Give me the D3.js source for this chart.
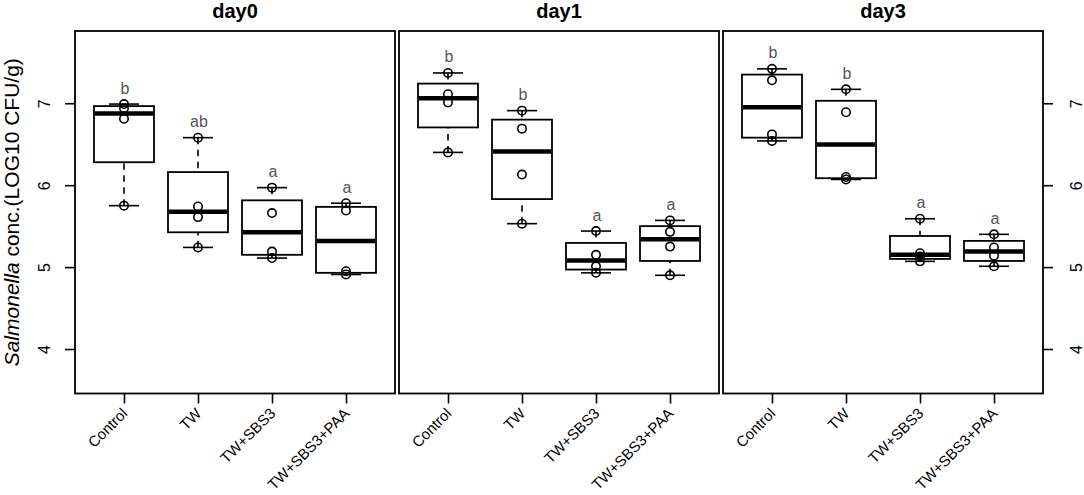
<!DOCTYPE html>
<html>
<head>
<meta charset="utf-8">
<script src="https://cdn.jsdelivr.net/npm/d3@7"></script>
<style>
  body { margin: 0; background: white; }
  text { font-family: "Liberation Sans", Arial, sans-serif; }
</style>
</head>
<body>
<div id="container"></div>
<script>
// values: 4 samples per group
let days = ["day0", "day1", "day3"];
let treatments = ["Control", "TW", "TW+SBS3", "TW+SBS3+PAA"];
let day0 = [[5.75, 6.81, 6.94, 6.99], [5.24, 5.61, 5.74, 6.58], [5.11, 5.19, 5.66, 5.97], [4.91, 4.95, 5.69, 5.78]];
let day1 = [[6.40, 7.01, 7.11, 7.37], [5.53, 6.13, 6.69, 6.91], [4.93, 5.01, 5.15, 5.44], [4.90, 5.25, 5.43, 5.57]];
let day3 = [[6.54, 6.62, 7.28, 7.42], [6.07, 6.10, 6.89, 7.17], [5.07, 5.13, 5.17, 5.59], [5.01, 5.14, 5.24, 5.40]];
let letters0 = ["b", "ab", "a", "a"];
let letters1 = ["b", "b", "a", "a"];
let letters3 = ["b", "b", "a", "a"];
let yTicks = [4, 5, 6, 7];

let dayValues = [day0, day1, day3];
let dayLetters = [letters0, letters1, letters3];

let w = 1084;
let h = 495;
let panelLeft = 75, panelW = 320, panelGap = 4;
let panelTop = 31, panelBottom = 393.5;

let viz = d3.select("#container").append("svg")
    .attr("width", w)
    .attr("height", h)
    .style("background-color", "white");

let y = d3.scaleLinear().domain([3.457, 7.882]).range([panelBottom, panelTop]);

// Tukey five number summary, like R's fivenum
function fivenum(v){
  let s = v.slice().sort(d3.ascending);
  let n = s.length;
  let n4 = Math.floor((n + 3) / 2) / 2;
  let d = [1, n4, (n + 1) / 2, n + 1 - n4, n];
  return d.map(k => 0.5 * (s[Math.floor(k) - 1] + s[Math.ceil(k) - 1]));
}

days.forEach(function(day, i){
  let x0 = panelLeft + i * (panelW + panelGap);
  let x = d3.scalePoint().domain(treatments).range([x0, x0 + panelW]).padding(0.662);
  let g = viz.append("g");

  let groups = treatments.map((t, j) => ({t: t, vals: dayValues[i][j], st: fivenum(dayValues[i][j]), lab: dayLetters[i][j]}));

  let box = g.selectAll(".box").data(groups).enter().append("g").attr("class", "box");
  let bw = 60, cw = 30;

  // whiskers, drawn from the end toward the hinge
  box.append("line")
      .attr("x1", d => x(d.t)).attr("x2", d => x(d.t))
      .attr("y1", d => y(d.st[0])).attr("y2", d => y(d.st[1]))
      .attr("stroke", "black").attr("stroke-width", 1.6).attr("stroke-dasharray", "6.5,5.5");
  box.append("line")
      .attr("x1", d => x(d.t)).attr("x2", d => x(d.t))
      .attr("y1", d => y(d.st[4])).attr("y2", d => y(d.st[3]))
      .attr("stroke", "black").attr("stroke-width", 1.6).attr("stroke-dasharray", "6.5,5.5");
  [0, 4].forEach(function(k){
    box.append("line")
        .attr("x1", d => x(d.t) - cw / 2).attr("x2", d => x(d.t) + cw / 2)
        .attr("y1", d => y(d.st[k])).attr("y2", d => y(d.st[k]))
        .attr("stroke", "black").attr("stroke-width", 1.6);
  });
  box.append("rect")
      .attr("x", d => x(d.t) - bw / 2)
      .attr("y", d => y(d.st[3]))
      .attr("width", bw)
      .attr("height", d => y(d.st[1]) - y(d.st[3]))
      .attr("fill", "white").attr("stroke", "black").attr("stroke-width", 1.8);
  box.append("line")
      .attr("x1", d => x(d.t) - bw / 2 + 1).attr("x2", d => x(d.t) + bw / 2 - 1)
      .attr("y1", d => y(d.st[2])).attr("y2", d => y(d.st[2]))
      .attr("stroke", "black").attr("stroke-width", 4.5);

  // raw points
  box.selectAll("circle").data(d => d.vals.map(v => ({t: d.t, v: v}))).enter()
    .append("circle")
      .attr("cx", d => x(d.t))
      .attr("cy", d => y(d.v))
      .attr("r", 4.2)
      .attr("fill", "none").attr("stroke", "black").attr("stroke-width", 1.6);

  // significance letters
  box.append("text")
      .attr("x", d => x(d.t) + 1)
      .attr("y", d => y(d3.max(d.vals)) - 16)
      .attr("text-anchor", "middle")
      .attr("dominant-baseline", "central")
      .attr("font-size", 16)
      .attr("fill", "#555")
      .text(d => d.lab);

  // panel frame
  g.append("rect")
      .attr("x", x0).attr("y", panelTop)
      .attr("width", panelW).attr("height", panelBottom - panelTop)
      .attr("fill", "none").attr("stroke", "black").attr("stroke-width", 1.8);

  g.append("text")
      .attr("x", x0 + panelW / 2).attr("y", 18)
      .attr("text-anchor", "middle")
      .attr("font-size", 20).attr("font-weight", "bold")
      .text(day);

  let xa = g.append("g")
      .attr("transform", "translate(0," + panelBottom + ")")
      .call(d3.axisBottom(x).tickSize(10).tickSizeOuter(0));
  xa.select(".domain").remove();
  xa.selectAll("line").attr("stroke-width", 1.6);
  xa.selectAll("text")
      .attr("y", null).attr("dy", null)
      .attr("transform", "translate(0,17) rotate(-45)")
      .attr("text-anchor", "end")
      .attr("dominant-baseline", "central")
      .attr("font-size", 15).attr("fill", "black")
      .style("font-family", "'Liberation Sans', Arial, sans-serif");

  if (i === 0){
    let ya = g.append("g").attr("transform", "translate(" + x0 + ",0)")
        .call(d3.axisLeft(y).tickValues(yTicks).tickSize(10).tickFormat(d3.format("d")));
    ya.select(".domain").remove();
    ya.selectAll("line").attr("stroke-width", 1.6);
    ya.selectAll("text")
        .attr("x", null).attr("dy", null)
        .attr("transform", "translate(-31,0) rotate(-90)")
        .attr("text-anchor", "middle").attr("dominant-baseline", "central")
        .attr("font-size", 16).attr("fill", "black")
        .style("font-family", "'Liberation Sans', Arial, sans-serif");
  }
  if (i === days.length - 1){
    let ya = g.append("g").attr("transform", "translate(" + (x0 + panelW) + ",0)")
        .call(d3.axisRight(y).tickValues(yTicks).tickSize(10).tickFormat(d3.format("d")));
    ya.select(".domain").remove();
    ya.selectAll("line").attr("stroke-width", 1.6);
    ya.selectAll("text")
        .attr("x", null).attr("dy", null)
        .attr("transform", "translate(33,0) rotate(-90)")
        .attr("text-anchor", "middle").attr("dominant-baseline", "central")
        .attr("font-size", 16).attr("fill", "black")
        .style("font-family", "'Liberation Sans', Arial, sans-serif");
  }
});

// y axis title
let yt = viz.append("text")
    .attr("transform", "translate(19," + (panelTop + panelBottom) / 2 + ") rotate(-90)")
    .attr("text-anchor", "middle")
    .attr("font-size", 21);
yt.append("tspan").attr("font-style", "italic").text("Salmonella");
yt.append("tspan").text(" conc.(LOG10 CFU/g)");
</script>
</body>
</html>
